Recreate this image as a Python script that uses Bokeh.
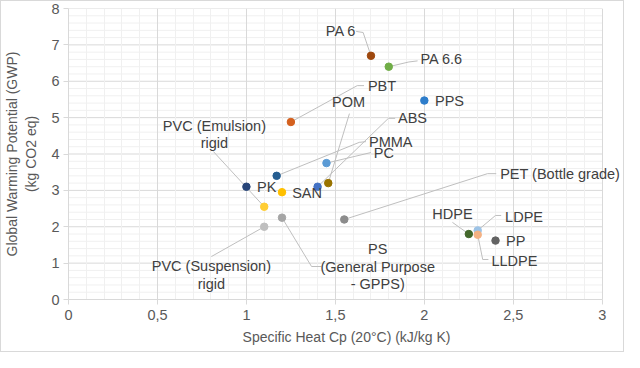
from bokeh.plotting import figure
from bokeh.models import ColumnDataSource, FixedTicker, Range1d, Label
from bokeh.embed import file_html
from bokeh.resources import INLINE

# ---- data ----
materials = ["PA 6", "PA 6.6", "PPS", "PBT", "POM", "ABS", "PMMA", "PC",
             "PVC (Emulsion) rigid", "PK", "SAN", "PVC (Suspension) rigid",
             "PS (General Purpose - GPPS)", "PET (Bottle grade)",
             "HDPE", "LDPE", "LLDPE", "PP"]
cp = [1.70, 1.80, 2.00, 1.25, 1.46, 1.40, 1.17, 1.45,
      1.10, 1.00, 1.20, 1.10,
      1.20, 1.55,
      2.25, 2.30, 2.30, 2.40]
gwp = [6.70, 6.40, 5.47, 4.88, 3.20, 3.10, 3.40, 3.75,
       2.55, 3.10, 2.95, 2.00,
       2.25, 2.20,
       1.80, 1.90, 1.78, 1.62]
colors = ["#9e480e", "#70ad47", "#2e7dcb", "#d4601e", "#997300", "#4472c4", "#255e91", "#5b9bd5",
          "#ffcd33", "#264478", "#ffc000", "#bfbfbf",
          "#a5a5a5", "#8c8c8c",
          "#43682b", "#9dc3e6", "#f4b183", "#636363"]
label_text = ["PA 6", "PA 6.6", "PPS", "PBT", "POM", "ABS", "PMMA", "PC",
              "PVC (Emulsion)\nrigid", "PK", "SAN", "PVC (Suspension)\nrigid",
              "PS\n(General Purpose\n- GPPS)", "PET (Bottle grade)",
              "HDPE", "LDPE", "LLDPE", "PP"]

x_ticks = [0, 0.5, 1, 1.5, 2, 2.5, 3]
x_tick_labels = ["0", "0,5", "1", "1,5", "2", "2,5", "3"]
y_ticks = [0, 1, 2, 3, 4, 5, 6, 7, 8]
y_tick_labels = ["0", "1", "2", "3", "4", "5", "6", "7", "8"]
x_min, x_max = 0, 3
y_min, y_max = 0, 8

# ---- label layout (annotation positions, data space) ----
label_x = [1.617, 1.978, 2.06, 1.683, 1.574, 1.852, 1.689, 1.716,
           0.820, 1.06, 1.257, 0.803,
           1.738, 2.426,
           2.158, 2.454, 2.377, 2.459]
label_y = [7.37, 6.60, 5.47, 5.88, 5.42, 4.98, 4.34, 4.04,
           4.54, 3.08, 2.94, 0.674,
           0.907, 3.44,
           2.36, 2.28, 1.07, 1.62]
label_align = ["right", "left", "left", "left", "center", "left", "left", "left",
               "center", "left", "left", "center",
               "center", "left",
               "center", "left", "left", "left"]
leader_xs = [[1.617, 1.656, None], [None, 1.913, 1.962], [], [None, 1.623, 1.661],
             [1.579, None], [1.836, 1.798, None], [1.672, 1.634, None], [1.70, None],
             [0.814, None], [], [], [0.803, None],
             [1.421, 1.366, None], [2.404, 2.355, None],
             [2.158, None], [2.432, 2.40, None], [None, 2.328, 2.36], []]
leader_ys = [[7.37, 7.34, None], [None, 6.53, 6.56], [], [None, 5.88, 5.88],
             [5.11, None], [4.98, 4.98, None], [4.34, 4.32, None], [4.04, None],
             [4.07, None], [], [], [1.18, None],
             [0.907, 0.907, None], [3.46, 3.46, None],
             [2.12, None], [2.31, 2.31, None], [None, 1.10, 1.10], []]

# fill the None placeholders with the point itself
lx, ly = [], []
for i in range(len(materials)):
    xs = [cp[i] if v is None else v for v in leader_xs[i]]
    ys = [gwp[i] if v is None else v for v in leader_ys[i]]
    if xs:
        lx.append(xs)
        ly.append(ys)

# the frame runs a bit past x=3 so that labels near the right edge are not clipped
p = figure(width=624, height=352, output_backend="svg", toolbar_location=None,
           x_range=Range1d(x_min, 3.125), y_range=Range1d(y_min, y_max),
           min_border_left=65, min_border_right=1, min_border_top=7, min_border_bottom=54)
p.outline_line_color = None
p.background_fill_color = "white"
p.border_fill_color = "white"
p.styles = {"border": "1px solid #d9d9d9"}

minor_x = [i / 10 for i in range(0, 31) if i % 5 != 0]
minor_y = [i / 5 for i in range(0, 41) if i % 5 != 0]
p.xaxis.ticker = FixedTicker(ticks=x_ticks, minor_ticks=minor_x)
p.yaxis.ticker = FixedTicker(ticks=y_ticks, minor_ticks=minor_y)
p.xgrid.ticker = FixedTicker(ticks=x_ticks, minor_ticks=minor_x)
p.xgrid.grid_line_color = "#d9d9d9"
p.xgrid.minor_grid_line_color = "#f0f0f0"
p.ygrid.visible = False
p.xaxis.bounds = (x_min, x_max)

# horizontal gridlines limited to the x extent of the axis
p.segment(x0=[x_min] * len(minor_y), x1=[x_max] * len(minor_y), y0=minor_y, y1=minor_y,
          line_color="#f0f0f0", line_width=1, level="underlay")
p.segment(x0=[x_min] * len(y_ticks), x1=[x_max] * len(y_ticks), y0=y_ticks, y1=y_ticks,
          line_color="#d9d9d9", line_width=1, level="underlay")

p.xaxis.major_label_overrides = dict(zip(x_ticks, x_tick_labels))
p.yaxis.major_label_overrides = dict(zip(y_ticks, y_tick_labels))

for ax in (p.xaxis, p.yaxis):
    ax.axis_line_color = "#d9d9d9"
    ax.major_tick_line_color = "#d9d9d9"
    ax.major_tick_in = 0
    ax.major_tick_out = 5
    ax.minor_tick_in = 0
    ax.minor_tick_out = 0
    ax.major_label_text_color = "#595959"
    ax.major_label_text_font = "Liberation Sans"
    ax.major_label_text_font_size = "14.5px"
    ax.axis_label_text_color = "#595959"
    ax.axis_label_text_font = "Liberation Sans"
    ax.axis_label_text_font_size = "14px"
    ax.axis_label_text_font_style = "normal"

p.xaxis.axis_label = "Specific Heat Cp (20°C) (kJ/kg K)"
p.yaxis.axis_label = "Global Warming Potential (GWP)\n(kg CO2 eq)"
p.xaxis.major_label_standoff = 5
p.yaxis.major_label_standoff = 4
p.xaxis.axis_label_standoff = 6
p.yaxis.axis_label_standoff = 9

p.multi_line(xs=lx, ys=ly, line_color="#bfbfbf", line_width=1)

src = ColumnDataSource(dict(x=cp, y=gwp, color=colors))
p.scatter(x="x", y="y", source=src, size=7.5, fill_color="color", line_color="color")

for i in range(len(materials)):
    p.add_layout(Label(x=label_x[i], y=label_y[i], text=label_text[i],
                       text_align=label_align[i], text_baseline="middle",
                       text_font="Liberation Sans", text_font_size="14.5px",
                       text_color="#404040", text_line_height=1.1))

open("out.html", "w").write(file_html(p, INLINE))
